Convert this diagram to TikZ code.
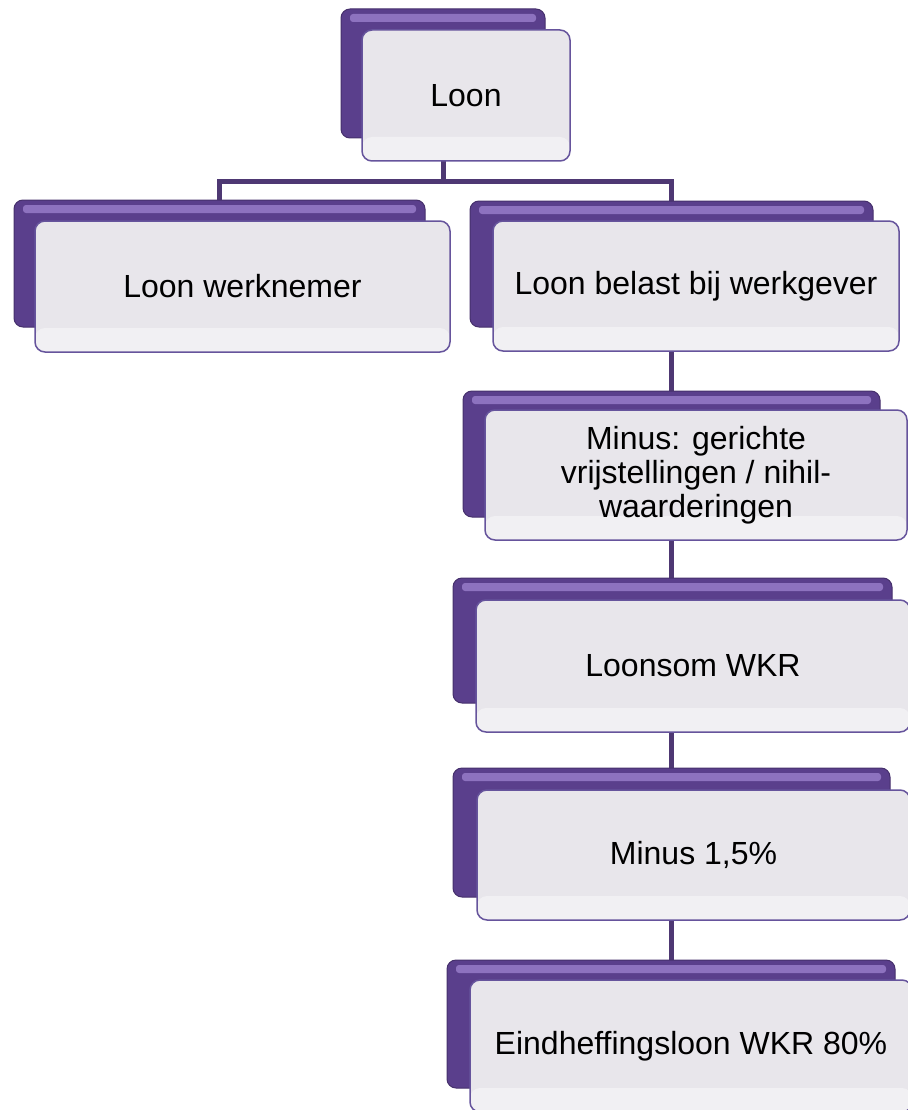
\documentclass[tikz,border=0pt]{standalone}
\usepackage{fontspec}
\setmainfont{Liberation Sans}
\pgfdeclarelayer{background}
\pgfsetlayers{background,main}
\definecolor{backpurple}{HTML}{5A3F8C}
\definecolor{edgepurple}{HTML}{46306C}
\definecolor{glowpurple}{HTML}{977BC8}
\definecolor{cardgray}{HTML}{E8E6EB}
\definecolor{cardedge}{HTML}{66549C}
\definecolor{linepurple}{HTML}{4E3873}

\begin{document}
\begin{tikzpicture}[x=1pt,y=-1pt,
    back/.style={draw=edgepurple, line width=1pt, fill=backpurple, rounded corners=9pt,
        anchor=north west, inner sep=0pt, outer sep=0pt,
        path picture={\fill[glowpurple, rounded corners=3pt, opacity=0.85]
            ([xshift=9pt,yshift=-5pt]path picture bounding box.north west)
            rectangle ([xshift=-9pt,yshift=-13pt]path picture bounding box.north east);}},
    card/.style={draw=cardedge, line width=1.5pt, fill=cardgray, rounded corners=10pt,
        anchor=north west, inner sep=0pt, outer sep=0pt, align=center,
        font=\fontsize{32}{34}\selectfont,
        path picture={\fill[white,opacity=0.4] (path picture bounding box.south west)
            rectangle ([yshift=24pt]path picture bounding box.south east);}},
    link/.style={draw=linepurple, line width=5pt}]
    \useasboundingbox (0,0) rectangle (907,1110);
    \node[back, minimum width=204pt, minimum height=129pt] (loonB) at (341,9) {};
    \node[card, minimum width=208pt, minimum height=131pt] (loon) at (362,30) {Loon};
    \node[back, minimum width=411pt, minimum height=127pt] (wnB) at (14,200) {};
    \node[card, minimum width=415pt, minimum height=131pt] (wn) at (35,221) {Loon werknemer};
    \node[back, minimum width=403pt, minimum height=126pt] (wgB) at (470,201) {};
    \node[card, minimum width=406pt, minimum height=130pt] (wg) at (493,221) {Loon belast bij werkgever};
    \node[back, minimum width=417pt, minimum height=126pt] (vrB) at (463,391) {};
    \node[card, minimum width=422pt, minimum height=130pt] (vr) at (485,410) {Minus: gerichte\\vrijstellingen / nihil-\\waarderingen};
    \node[back, minimum width=439pt, minimum height=125pt] (wkrB) at (453,578) {};
    \node[card, minimum width=434pt, minimum height=132pt] (wkr) at (476,600) {Loonsom WKR};
    \node[back, minimum width=437pt, minimum height=129pt] (minB) at (453,768) {};
    \node[card, minimum width=433pt, minimum height=130pt] (min) at (477,790) {Minus 1,5\%};
    \node[back, minimum width=448pt, minimum height=128pt] (eindB) at (447,960) {};
    \node[card, minimum width=442pt, minimum height=132pt] (eind) at (470,980) {Eindheffingsloon WKR 80\%};
    \begin{pgfonlayer}{background}
        \draw[link] (loonB.south) -- ++(0,44) -| (wnB.north);
        \draw[link] (loonB.south) -- ++(0,44) -| (wgB.north);
        \draw[link] (wgB.south) -- (wgB.south |- vrB.north);
        \draw[link] (wgB.south |- vrB.south) -- (wgB.south |- wkrB.north);
        \draw[link] (wgB.south |- wkrB.south) -- (wgB.south |- minB.north);
        \draw[link] (wgB.south |- minB.south) -- (wgB.south |- eindB.north);
    \end{pgfonlayer}
\end{tikzpicture}
\end{document}
